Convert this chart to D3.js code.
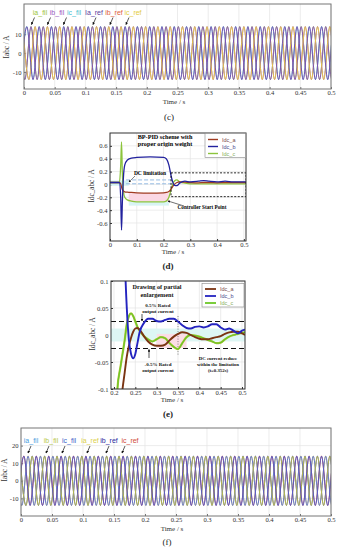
<!DOCTYPE html>
<html><head><meta charset="utf-8">
<script src="https://cdn.jsdelivr.net/npm/d3@7"></script>
<style>body{margin:0;background:#fff}svg{display:block}</style>
</head><body>
<script>
// ================= DATA =================
// Panels (c) and (f): three-phase currents, extremum values of each half cycle
const halfPeriod = 0.01; // s (50 Hz)
const firstExtremumTimeA = -0.0086, firstExtremumTimeB = -0.0019, firstExtremumTimeC = -0.0053;
const extremaA = [14,-14,14,-14,14,-14,14,-14,14,-14,14,-14,14,-14,14,-14,14,-14,14,-14,14,-14,14,-14,14,-14,14,-14,14,-14,14,-14,14,-14,14,-14,14,-14,14,-14,14,-14,14,-14,14,-14,14,-14,14,-14,14,-14,14];
const extremaB = [14,-14,14,-14,14,-14,14,-14,14,-14,14,-14,14,-14,14,-14,14,-14,14,-14,14,-14,14,-14,14,-14,14,-14,14,-14,14,-14,14,-14,14,-14,14,-14,14,-14,14,-14,14,-14,14,-14,14,-14,14,-14,14,-14,14];
const extremaC = [-14,14,-14,14,-14,14,-14,14,-14,14,-14,14,-14,14,-14,14,-14,14,-14,14,-14,14,-14,14,-14,14,-14,14,-14,14,-14,14,-14,14,-14,14,-14,14,-14,14,-14,14,-14,14,-14,14,-14,14,-14,14,-14,14,-14];
const seriesNamesC = ["ia_fil","ib_fil","ic_fil","Ia_ref","ib_ref","ic_ref"];
const seriesNamesF = ["ia_fil","ib_fil","ic_fil","ia_ref","ib_ref","ic_ref"];
const timeTicks = [0,0.05,0.1,0.15,0.2,0.25,0.3,0.35,0.4,0.45,0.5];
const timeTickLabels = ["0","0.05","0.1","0.15","0.2","0.25","0.3","0.35","0.4","0.45","0.5"];
const iabcTicksC = [-10,0,10];
const iabcTicksF = [-10,0,10,20];

// Panel (d): DC components
const dTime = [0,0.035,0.04,0.043,0.046,0.05,0.055,0.065,0.08,0.1,0.15,0.2,0.21,0.22,0.23,0.24,0.25,0.26,0.28,0.3,0.33,0.35,0.37,0.4,0.43,0.46,0.5,0.508];
const dIdcA = [0.03,0.03,0.01,-0.04,-0.08,-0.1,-0.115,-0.12,-0.125,-0.13,-0.135,-0.13,-0.125,-0.11,-0.06,0.0,0.03,0.04,0.035,0.03,0.025,0.03,0.03,0.025,0.03,0.03,0.03,0.03];
const dIdcB = [0.03,0.03,-0.2,-0.71,-0.3,0.1,0.3,0.38,0.41,0.42,0.43,0.42,0.4,0.3,0.1,-0.01,-0.02,0.02,0.05,0.04,0.05,0.06,0.05,0.04,0.05,0.04,0.04,0.04];
const dIdcC = [0.03,0.03,0.3,0.66,0.2,-0.1,-0.2,-0.24,-0.26,-0.27,-0.27,-0.27,-0.26,-0.2,-0.05,0.05,0.07,0.04,0.02,0.01,0.01,0.01,0.01,0.01,0.01,0.01,0.01,0.01];
const dYTicks = [-0.6,-0.4,-0.2,0,0.2,0.4,0.6];
const dYTickLabels = ["-0.6","-0.4","-0.2","0","0.2","0.4","0.6"];
const dXTicks = [0,0.1,0.2,0.3,0.4,0.5];
const dXTickLabels = ["0","0.1","0.2","0.3","0.4","0.5"];

// Panel (e): enlargement 0.2 - 0.5 s
const eTime = [0.2,0.208,0.215,0.22,0.225,0.23,0.235,0.24,0.245,0.25,0.255,0.26,0.27,0.28,0.29,0.3,0.31,0.32,0.33,0.34,0.35,0.36,0.37,0.38,0.39,0.4,0.41,0.42,0.43,0.44,0.45,0.46,0.47,0.48,0.49,0.5,0.507];
const eIdcA = [-0.4,-0.25,-0.14,-0.1,-0.07,-0.04,-0.02,-0.005,0.006,0.012,0.013,0.01,-0.002,-0.012,-0.018,-0.02,-0.02,-0.018,-0.01,-0.003,0.002,0.005,0.004,0.0,-0.004,-0.007,-0.008,-0.008,-0.006,-0.004,-0.002,0.002,0.005,0.006,0.006,0.003,0.0];
const eIdcB = [0.42,0.42,0.41,0.3,0.15,0.05,-0.01,-0.035,-0.043,-0.035,-0.015,0.005,0.022,0.03,0.03,0.026,0.025,0.028,0.03,0.03,0.025,0.018,0.013,0.012,0.015,0.016,0.014,0.016,0.02,0.02,0.014,0.01,0.012,0.008,0.003,0.008,0.01];
const eIdcC = [-0.27,-0.1,-0.06,-0.035,-0.01,0.02,0.035,0.04,0.035,0.025,0.015,0.008,-0.002,-0.008,-0.012,-0.008,-0.004,-0.006,-0.015,-0.022,-0.026,-0.015,-0.004,0.0,-0.001,-0.003,-0.006,-0.009,-0.012,-0.015,-0.014,-0.008,-0.003,0.0,0.002,0.004,0.005];
const eYTicks = [-0.1,-0.05,0,0.05,0.1];
const eYTickLabels = ["-0.1","-0.05","0","0.05","0.1"];
const eXTicks = [0.2,0.25,0.3,0.35,0.4,0.45,0.5];
const eXTickLabels = ["0.2","0.25","0.3","0.35","0.4","0.45","0.5"];
const legendNames = ["Idc_a","Idc_b","Idc_c"];
const ratedBand = [-0.025, 0.025];

// ================= DRAWING =================
const svg = d3.select("body").append("svg").attr("width",337).attr("height",550);
const defs = svg.append("defs");
defs.append("marker").attr("id","arr").attr("viewBox","0 0 6 6").attr("refX",5).attr("refY",3)
  .attr("markerWidth",4).attr("markerHeight",4).attr("orient","auto")
  .append("path").attr("d","M0,0L6,3L0,6Z").attr("fill","#111");

const SERIF = "'Liberation Serif','DejaVu Serif',serif";
const SANS = "'Liberation Sans',Arial,sans-serif";

function makePanel(p){
  const x = d3.scaleLinear().domain(p.xDomain).range([p.left,p.right]);
  const y = d3.scaleLinear().domain(p.yDomain).range([p.bottom,p.top]);
  const g = svg.append("g");
  g.append("rect").attr("x",p.left).attr("y",p.top).attr("width",p.right-p.left).attr("height",p.bottom-p.top).attr("fill","#fff");
  g.append("g").selectAll("line").data(p.xTicks).join("line")
    .attr("x1",d=>x(d)).attr("x2",d=>x(d)).attr("y1",p.top).attr("y2",p.bottom)
    .attr("stroke","#e4e4e4").attr("stroke-width",0.7);
  g.append("g").selectAll("line").data(p.yTicks).join("line")
    .attr("y1",d=>y(d)).attr("y2",d=>y(d)).attr("x1",p.left).attr("x2",p.right)
    .attr("stroke","#e4e4e4").attr("stroke-width",0.7);
  const xa = g.append("g").attr("transform",`translate(0,${p.bottom})`)
    .call(d3.axisBottom(x).tickValues(p.xTicks).tickFormat((d,i)=>p.xLabels[i]).tickSizeInner(-2).tickSizeOuter(0).tickPadding(1.5));
  const ya = g.append("g").attr("transform",`translate(${p.left},0)`)
    .call(d3.axisLeft(y).tickValues(p.yTicks).tickFormat((d,i)=>p.yLabels[i]).tickSizeInner(-2).tickSizeOuter(0).tickPadding(2.5));
  [xa,ya].forEach(a=>{
    a.select(".domain").remove();
    a.selectAll("line").attr("stroke",p.frame);
    a.selectAll("text").attr("font-family",SERIF).attr("font-size",6.6).attr("fill","#333");
  });
  const cid = "clip_"+p.name;
  defs.append("clipPath").attr("id",cid).append("rect").attr("x",p.left).attr("y",p.top).attr("width",p.right-p.left).attr("height",p.bottom-p.top);
  const plot = svg.append("g").attr("clip-path",`url(#${cid})`);
  const over = svg.append("g");
  over.append("rect").attr("x",p.left).attr("y",p.top).attr("width",p.right-p.left).attr("height",p.bottom-p.top)
    .attr("fill","none").attr("stroke",p.frame).attr("stroke-width",p.frameW);
  over.append("text").attr("x",p.xTitle[0]).attr("y",p.xTitle[1]).attr("text-anchor","middle")
    .attr("font-family",SERIF).attr("font-size",7).attr("fill","#333").text("Time / s");
  over.append("text").attr("transform",`translate(${p.yTitle[0]},${p.yTitle[1]}) rotate(-90)`).attr("text-anchor","middle")
    .attr("font-family",SERIF).attr("font-size",7.2).attr("fill","#333").text(p.yTitleText);
  over.append("text").attr("x",p.tag[0]).attr("y",p.tag[1]).attr("text-anchor","middle")
    .attr("font-family",SERIF).attr("font-size",9).attr("font-weight",p.tagBold?"bold":"normal").attr("fill","#222").text(p.tagText);
  return {x,y,plot,over};
}

function extremaPoints(t0, ext){ return ext.map((v,i)=>[t0+i*halfPeriod, v]); }

// ---------- Panel (c) ----------
{
  const P = makePanel({name:"c",left:24,right:331,top:4,bottom:89,xDomain:[0,0.5],yDomain:[-19,26],
    xTicks:timeTicks,xLabels:timeTickLabels,yTicks:iabcTicksC,yLabels:iabcTicksC.map(String),
    frame:"#777",frameW:1,xTitle:[174,103.5],yTitle:[9,47],yTitleText:"Iabc / A",tag:[169,120],tagText:"(c)"});
  const line = d3.line().x(d=>P.x(d[0])).y(d=>P.y(d[1])).curve(d3.curveMonotoneX);
  const phases = [[firstExtremumTimeA,extremaA],[firstExtremumTimeB,extremaB],[firstExtremumTimeC,extremaC]];
  const filColors = ["#9cc84a","#a064c4","#55c8d6"];
  const refColors = ["#8a58b8","#e4c24a","#7a52b0"];
  phases.forEach((ph,i)=>{
    P.plot.append("path").attr("d",line(extremaPoints(ph[0],ph[1]))).attr("fill","none").attr("stroke",filColors[i]).attr("stroke-width",1.1);
  });
  phases.forEach((ph,i)=>{
    P.plot.append("path").attr("d",line(extremaPoints(ph[0],ph[1]))).attr("fill","none").attr("stroke",refColors[i]).attr("stroke-width",1);
  });
  const labColors = ["#9cc43c","#9b59c0","#45c0d0","#5a3ea0","#e0603c","#e4cc40"];
  const labX = [40,57,74,94,114,133];
  const tipX = [31.5,47.5,63.5,93,110,126];
  seriesNamesC.forEach((s,i)=>{
    P.over.append("text").attr("x",labX[i]).attr("y",15).attr("text-anchor","middle").attr("font-family",SANS)
      .attr("font-size",7).attr("fill",labColors[i]).text(s);
    P.over.append("line").attr("x1",tipX[i]+3).attr("y1",17.5).attr("x2",tipX[i]).attr("y2",24.5)
      .attr("stroke","#111").attr("stroke-width",0.7).attr("marker-end","url(#arr)");
  });
}

// ---------- Panel (d) ----------
{
  const P = makePanel({name:"d",left:110,right:246,top:133,bottom:241,xDomain:[0,0.508],yDomain:[-0.88,0.8],
    xTicks:dXTicks,xLabels:dXTickLabels,yTicks:dYTicks,yLabels:dYTickLabels,
    frame:"#333",frameW:1,xTitle:[173,253.5],yTitle:[94,186],yTitleText:"Idc_abc / A",tag:[168,269],tagText:"(d)",tagBold:true});
  const x=P.x,y=P.y;
  P.plot.append("rect").attr("x",x(0.07)).attr("y",y(-0.135)).attr("width",x(0.22)-x(0.07)).attr("height",y(-0.27)-y(-0.135)).attr("fill","#fbd8e4");
  P.plot.append("rect").attr("x",x(0.07)).attr("y",y(-0.27)).attr("width",x(0.22)-x(0.07)).attr("height",y(-0.33)-y(-0.27)).attr("fill","#d8f4f4");
  P.plot.append("rect").attr("x",x(0)).attr("y",y(0.06)).attr("width",x(0.07)-x(0)).attr("height",y(-0.02)-y(0.06)).attr("fill","#d0f2f2");
  [0.07,0.01].forEach(v=>P.plot.append("line").attr("x1",x(0.06)).attr("x2",x(0.23)).attr("y1",y(v)).attr("y2",y(v))
    .attr("stroke","#8ab4e0").attr("stroke-width",0.9).attr("stroke-dasharray","4,2"));
  const line = d3.line().x((d,i)=>x(dTime[i])).y(d=>y(d)).curve(d3.curveMonotoneX);
  const cols = ["#a03c22","#22229e","#8cc43c"];
  [dIdcC,dIdcA,dIdcB].forEach((arr,k)=>{
    const c=[cols[2],cols[0],cols[1]][k];
    P.plot.append("path").attr("d",line(arr)).attr("fill","none").attr("stroke",c).attr("stroke-width",1.3);
  });
  P.plot.append("path").attr("d",`M${x(0.228)},${y(0.18)}H${x(0.508)}V${y(-0.19)}H${x(0.228)}Z`)
    .attr("fill","none").attr("stroke","#111").attr("stroke-width",0.9).attr("stroke-dasharray","2,1.5");
  const o=P.over;
  o.append("text").attr("x",165).attr("y",138.5).attr("text-anchor","middle").attr("font-family",SERIF).attr("font-size",6.2).attr("font-weight","bold").text("BP-PID scheme with");
  o.append("text").attr("x",165).attr("y",145.5).attr("text-anchor","middle").attr("font-family",SERIF).attr("font-size",6.2).attr("font-weight","bold").text("proper origin weight");
  o.append("text").attr("x",150).attr("y",175).attr("text-anchor","middle").attr("font-family",SERIF).attr("font-size",5.5).attr("font-weight","bold").text("DC limitation");
  o.append("line").attr("x1",135).attr("y1",176).attr("x2",129).attr("y2",182).attr("stroke","#333").attr("stroke-width",0.6).attr("marker-end","url(#arr)");
  o.append("text").attr("x",202).attr("y",209).attr("text-anchor","middle").attr("font-family",SERIF).attr("font-size",5.2).attr("font-weight","bold").text("Controller Start Point");
  o.append("line").attr("x1",184).attr("y1",206).attr("x2",168).attr("y2",201).attr("stroke","#111").attr("stroke-width",0.6).attr("marker-end","url(#arr)");
  o.append("rect").attr("x",205).attr("y",133.5).attr("width",40.5).attr("height",24).attr("fill","#fff").attr("stroke","#888").attr("stroke-width",0.6);
  legendNames.forEach((n,i)=>{
    const yy=139.5+i*7;
    o.append("line").attr("x1",208).attr("x2",218).attr("y1",yy).attr("y2",yy).attr("stroke",cols[i]).attr("stroke-width",1.4);
    o.append("text").attr("x",222).attr("y",yy+2).attr("font-family",SANS).attr("font-size",5.5).attr("fill",i==0?"#7a4a4a":i==1?"#4a4a8a":"#8ab060").text(n);
  });
}

// ---------- Panel (e) ----------
{
  const P = makePanel({name:"e",left:111,right:245,top:281,bottom:389,xDomain:[0.193,0.507],yDomain:[-0.1,0.1],
    xTicks:eXTicks,xLabels:eXTickLabels,yTicks:eYTicks,yLabels:eYTickLabels,
    frame:"#333",frameW:1,xTitle:[172,402],yTitle:[95,334],yTitleText:"Idc_abc / A",tag:[168,417],tagText:"(e)",tagBold:true});
  const x=P.x,y=P.y;
  P.plot.append("rect").attr("x",x(0.193)).attr("y",y(0.012)).attr("width",x(0.507)-x(0.193)).attr("height",y(-0.012)-y(0.012)).attr("fill","#ddf6f4");
  P.plot.append("rect").attr("x",x(0.3)).attr("y",y(0.002)).attr("width",x(0.37)-x(0.3)).attr("height",y(-0.024)-y(0.002)).attr("fill","#fbdde6");
  ratedBand.forEach(v=>P.plot.append("line").attr("x1",x(0.193)).attr("x2",x(0.507)).attr("y1",y(v)).attr("y2",y(v))
    .attr("stroke","#111").attr("stroke-width",1.2).attr("stroke-dasharray","5,3"));
  P.plot.append("line").attr("x1",x(0.35)).attr("x2",x(0.35)).attr("y1",y(0.035)).attr("y2",y(-0.037))
    .attr("stroke","#555").attr("stroke-width",0.7).attr("stroke-dasharray","1,1.5");
  const line = d3.line().x((d,i)=>x(eTime[i])).y(d=>y(d)).curve(d3.curveMonotoneX);
  const cols = ["#7a3412","#2424c0","#6cc828"];
  P.plot.append("path").attr("d",line(eIdcC)).attr("fill","none").attr("stroke","#b8c23a").attr("stroke-width",2.2);
  P.plot.append("path").attr("d",line(eIdcC)).attr("fill","none").attr("stroke",cols[2]).attr("stroke-width",1.3);
  P.plot.append("path").attr("d",line(eIdcA)).attr("fill","none").attr("stroke",cols[0]).attr("stroke-width",1.9);
  P.plot.append("path").attr("d",line(eIdcB)).attr("fill","none").attr("stroke",cols[1]).attr("stroke-width",1.9);
  const o=P.over;
  const tx=(xx,yy,s,fs)=>o.append("text").attr("x",xx).attr("y",yy).attr("text-anchor","middle").attr("font-family",SERIF).attr("font-size",fs).attr("font-weight","bold").attr("fill","#111").text(s);
  tx(157,289,"Drawing of partial",6.2); tx(157,296.5,"enlargement",6.2);
  tx(158,306.5,"0.5% Rated",5); tx(158,312.5,"output current",5);
  o.append("line").attr("x1",142).attr("y1",314).attr("x2",142).attr("y2",321).attr("stroke","#111").attr("stroke-width",0.7).attr("marker-end","url(#arr)");
  tx(158,365.5,"-0.5% Rated",5); tx(158,371.5,"output current",5);
  o.append("line").attr("x1",149).attr("y1",358).attr("x2",149).attr("y2",349.5).attr("stroke","#111").attr("stroke-width",0.7).attr("marker-end","url(#arr)");
  tx(218,360,"DC current reduce",4.8); tx(218,366,"within the limitation",4.8); tx(218,372,"(t=0.352s)",4.8);
  o.append("rect").attr("x",202).attr("y",283.5).attr("width",42).attr("height",23.5).attr("fill","#fff").attr("stroke","#888").attr("stroke-width",0.6);
  legendNames.forEach((n,i)=>{
    const yy=289+i*7;
    o.append("line").attr("x1",205).attr("x2",216).attr("y1",yy).attr("y2",yy).attr("stroke",cols[i]).attr("stroke-width",1.8);
    o.append("text").attr("x",220).attr("y",yy+2).attr("font-family",SANS).attr("font-size",5.5).attr("fill",i==0?"#7a4a4a":i==1?"#4a4a8a":"#8ab060").text(n);
  });
}

// ---------- Panel (f) ----------
{
  const P = makePanel({name:"f",left:21,right:331,top:428,bottom:516,xDomain:[0,0.5],yDomain:[-20,30],
    xTicks:timeTicks,xLabels:timeTickLabels,yTicks:iabcTicksF,yLabels:iabcTicksF.map(String),
    frame:"#777",frameW:1,xTitle:[172,531],yTitle:[7,470],yTitleText:"Iabc / A",tag:[167,545],tagText:"(f)"});
  const line = d3.line().x(d=>P.x(d[0])).y(d=>P.y(d[1])).curve(d3.curveMonotoneX);
  const phases = [[firstExtremumTimeA,extremaA],[firstExtremumTimeB,extremaB],[firstExtremumTimeC,extremaC]];
  const refColors = ["#c8c050","#4a4ab4","#c05050"];
  const filColors = ["#6a7ad0","#b4b84e","#5a5ac0"];
  phases.forEach((ph,i)=>P.plot.append("path").attr("d",line(extremaPoints(ph[0],ph[1]))).attr("fill","none").attr("stroke",refColors[i]).attr("stroke-width",1.1));
  phases.forEach((ph,i)=>P.plot.append("path").attr("d",line(extremaPoints(ph[0],ph[1]))).attr("fill","none").attr("stroke",filColors[i]).attr("stroke-width",1));
  const labColors = ["#4a9ee0","#b8c84a","#3a5ec8","#dcd04a","#2a2aa0","#d04a3a"];
  const labX = [31,51,69,90,109,130];
  const tipX = [28,46,62,87,106,122];
  seriesNamesF.forEach((s,i)=>{
    P.over.append("text").attr("x",labX[i]).attr("y",443).attr("text-anchor","middle").attr("font-family",SANS)
      .attr("font-size",7).attr("fill",labColors[i]).text(s);
    P.over.append("line").attr("x1",tipX[i]+3).attr("y1",446).attr("x2",tipX[i]).attr("y2",453)
      .attr("stroke","#111").attr("stroke-width",0.7).attr("marker-end","url(#arr)");
  });
}
</script>
</body></html>
